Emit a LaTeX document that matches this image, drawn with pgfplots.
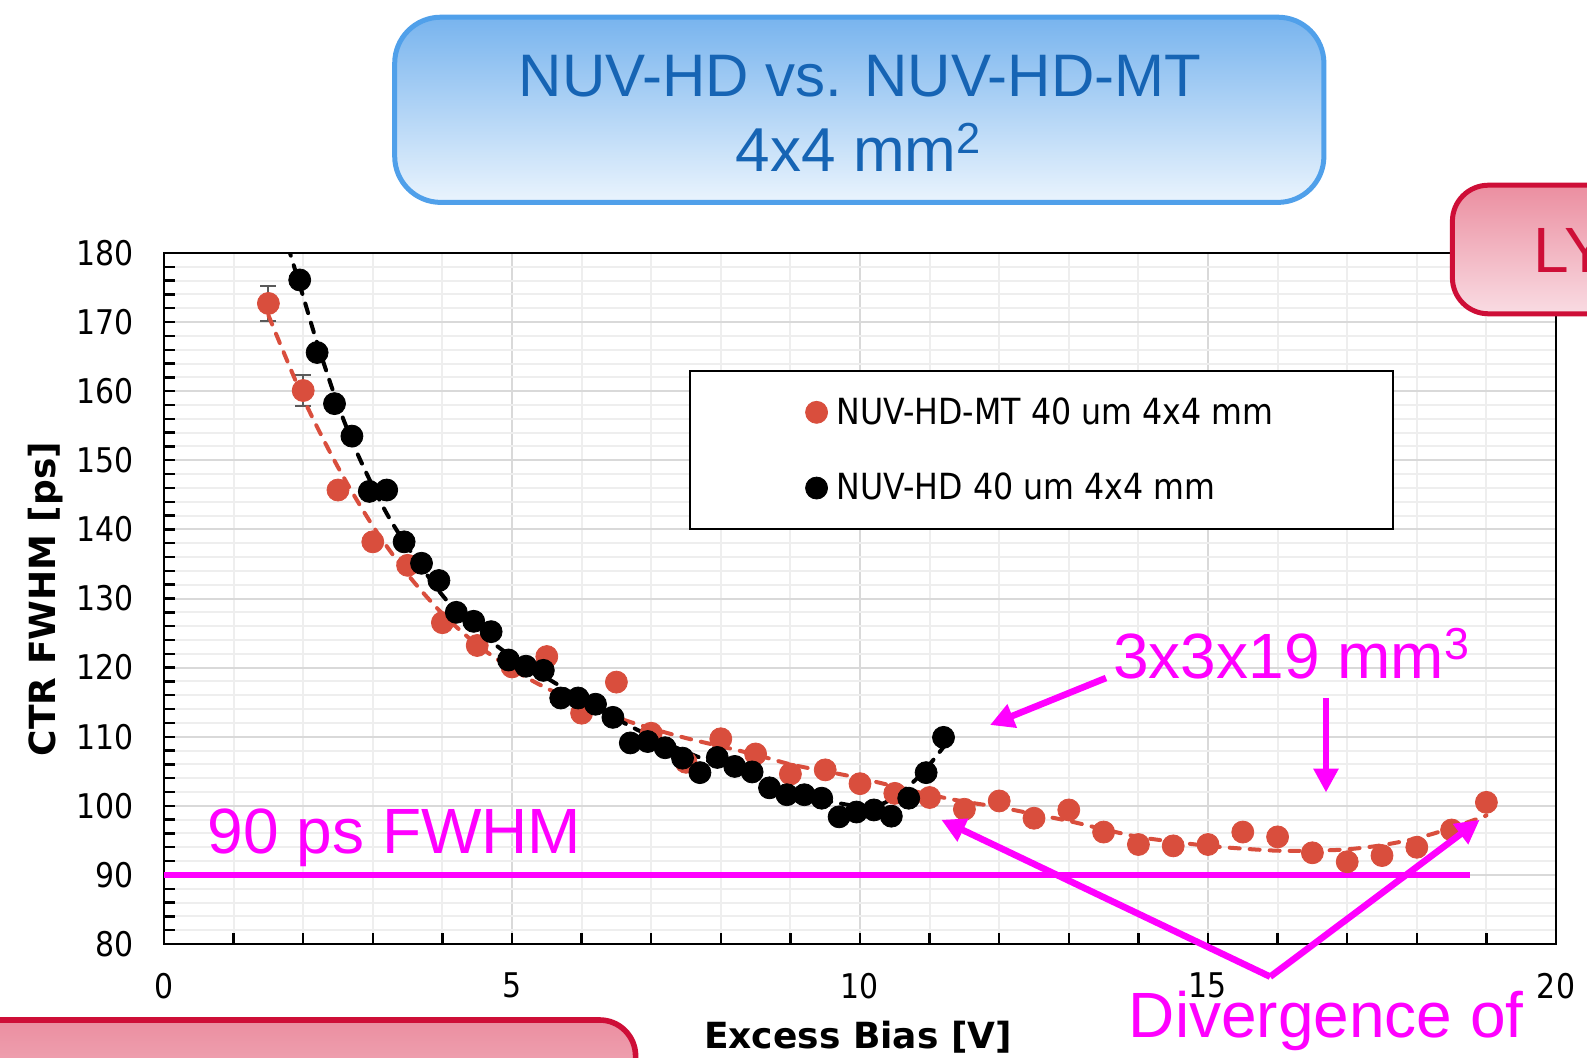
\documentclass[border=0pt]{standalone}
\usepackage{fontspec}
\setmainfont{Liberation Sans}
\newfontfamily\tickfont{DejaVu Sans}[FakeStretch=0.88]
\newfontfamily\labfont{DejaVu Sans}
\usepackage{pgfplots}
\usepackage{pgfplotstable}
\pgfplotsset{compat=1.18}
\usetikzlibrary{arrows.meta}

\definecolor{ptred}{RGB}{217,78,61}
\definecolor{mag}{RGB}{255,0,255}
\definecolor{titleblue}{RGB}{22,100,180}
\definecolor{boxborder}{RGB}{80,160,234}
\definecolor{boxtop}{RGB}{120,180,238}
\definecolor{boxbot}{RGB}{234,244,253}
\definecolor{crim}{RGB}{206,14,55}
\definecolor{pinktop}{RGB}{235,142,160}
\definecolor{pinkbot}{RGB}{249,220,227}
\definecolor{majgrid}{RGB}{217,217,217}
\definecolor{mingrid}{RGB}{238,238,238}
\definecolor{errgray}{RGB}{90,90,90}

\pgfplotstableread{
x y
1.5 172.7
2.0 160.1
2.5 145.7
3.0 138.2
3.5 134.8
4.0 126.5
4.5 123.2
5.0 120.1
5.5 121.6
6.0 113.4
6.5 117.9
7.0 110.5
7.5 106.3
8.0 109.7
8.5 107.5
9.0 104.6
9.5 105.2
10.0 103.2
10.5 101.8
11.0 101.2
11.5 99.5
12.0 100.7
12.5 98.2
13.0 99.4
13.5 96.2
14.0 94.4
14.5 94.2
15.0 94.4
15.5 96.2
16.0 95.5
16.5 93.2
17.0 91.9
17.5 92.8
18.0 94.0
18.5 96.5
19.0 100.5
}\redtab

\pgfplotstableread{
x y
1.95 176.1
2.20 165.6
2.45 158.2
2.70 153.5
2.95 145.5
3.20 145.7
3.45 138.2
3.70 135.1
3.95 132.6
4.20 128.0
4.45 126.7
4.70 125.2
4.95 121.1
5.20 120.2
5.45 119.6
5.70 115.6
5.95 115.6
6.20 114.7
6.45 112.8
6.70 109.1
6.95 109.3
7.20 108.4
7.45 106.9
7.70 104.8
7.95 107.0
8.20 105.7
8.45 104.9
8.70 102.6
8.95 101.6
9.20 101.6
9.45 101.1
9.70 98.4
9.95 99.1
10.20 99.4
10.45 98.5
10.70 101.1
10.95 104.8
11.20 109.9
}\blacktab

\begin{document}
\begin{tikzpicture}[x=0.5pt,y=0.5pt]
\useasboundingbox (0,0) rectangle (1587,1057);
\clip (0,0) rectangle (1587,1057);

\begin{axis}[
  at={(82pt,56.5pt)}, anchor=south west,
  width=696pt, height=345.5pt, scale only axis,
  xmin=0, xmax=20, ymin=80, ymax=180,
  xtick={0,5,10,15,20}, ytick={80,90,...,180},
  minor x tick num=4, minor y tick num=4,
  grid=both,
  major grid style={majgrid, line width=1pt},
  minor grid style={mingrid, line width=1pt},
  tick align=inside, xtick pos=bottom, ytick pos=left,
  major tick length=5.5pt, minor tick length=5.5pt,
  tick style={black, line width=1.2pt},
  axis line style={black, line width=1.4pt},
  tick label style={font=\tickfont\fontsize{17}{17}\selectfont},
  /pgf/number format/assume math mode=true,
  xticklabel style={yshift=-11pt},
  yticklabel style={xshift=-11.5pt},
  legend style={at={(0.377,0.830)}, anchor=north west, draw=black, line width=1pt,
    fill=white, inner xsep=57.9pt, inner ysep=11pt, row sep=19pt,
    font=\tickfont\fontsize{18}{20}\selectfont, nodes={inner sep=2pt}},
  legend cell align=left,
  legend image code/.code={\draw[#1] plot coordinates {(0pt,0pt)}; \path (7.5pt,0pt);},
]
% error bars of the first two red points
\addplot[forget plot, only marks, mark=none, color=errgray,
  error bars/.cd, y dir=both, y explicit,
  error bar style={line width=1pt, errgray},
  error mark options={rotate=90, mark size=4pt, line width=1pt, errgray}]
  coordinates {(1.5,172.7) +- (0,2.5) (2.0,160.1) +- (0,2.2)};

\addplot[only marks, mark=*, mark size=5.5pt, color=ptred, mark options={line width=0.4pt}]
  table[x=x,y=y]{\redtab};
\addlegendentry{NUV-HD-MT 40 um 4x4 mm}

\addplot[forget plot, ptred, line width=2pt, line cap=round, dash pattern=on 5pt off 5pt, smooth]
  coordinates {(1.5,171) (2,159) (2.5,149) (3,140.5) (3.5,133.5) (4,127.8) (4.5,123.3)
  (5,119.8) (5.5,117) (6,114.8) (6.5,112.8) (7,111.2) (7.5,109.8) (8,108.6) (8.5,107.4)
  (9,106) (9.5,105) (10,104) (10.5,102.8) (11,101.6) (11.5,100.6) (12,99.8) (12.5,98.8)
  (13,97.8) (13.5,96.6) (14,95.5) (14.5,94.8) (15,94.2) (15.5,93.8) (16,93.5) (16.5,93.5)
  (17,93.7) (17.5,94.3) (18,95.3) (18.5,96.8) (19,98.6)};

\addplot[only marks, mark=*, mark size=5.5pt, color=black, mark options={line width=0.4pt}]
  table[x=x,y=y]{\blacktab};
\addlegendentry{NUV-HD 40 um 4x4 mm}

\addplot[forget plot, black, line width=2pt, line cap=round, dash pattern=on 5pt off 5pt, smooth]
  coordinates {(1.78,181) (2,173.7) (2.2,167) (2.5,158) (2.8,150.5) (3.2,142.3) (3.6,136)
  (4.1,129.3) (4.8,123) (5.5,118.5) (6.2,114.3) (6.8,111) (7.5,107.8) (8,105.8) (8.5,104)
  (9,102.3) (9.5,100.8) (10,99.9) (10.3,100.2) (10.6,102) (10.9,104.8) (11.2,108.5)};

\draw[mag, line width=3.3pt] (axis cs:0,90) -- (axis cs:18.76,90);
\end{axis}

% axis titles
\node[anchor=base, inner sep=0pt, font=\labfont\bfseries\fontsize{18}{18}\selectfont] at (858,8.5) {Excess Bias [V]};
\node[anchor=base, inner sep=0pt, rotate=90, font=\labfont\bfseries\fontsize{18}{18}\selectfont] at (55.7,458) {CTR FWHM [ps]};

% title box
\draw[boxborder, line width=2.5pt, rounded corners=23pt, top color=boxtop, bottom color=boxbot]
  (394.7,854.6) rectangle (1323.9,1039.8);
\node[anchor=base, inner sep=0pt, text=titleblue, font=\fontsize{30}{36}\selectfont] at (860,960.8) {NUV-HD vs. NUV-HD-MT};
\node[anchor=base, inner sep=0pt, text=titleblue, font=\fontsize{31}{36}\selectfont] at (858.8,885) {4x4 mm\textsuperscript{2}};

% right box
\draw[crim, line width=2.5pt, rounded corners=18pt, top color=pinktop, bottom color=pinkbot]
  (1452.4,743.2) rectangle (1720,871.8);
\node[anchor=base west, inner sep=0pt, text=crim, font=\fontsize{32}{38}\selectfont] at (1533,784) {LY};

% bottom-left box
\draw[crim, line width=2.8pt, rounded corners=18pt, top color=pinktop, bottom color=pinkbot]
  (-100,-150) rectangle (635.6,37);

% annotations
\node[anchor=base west, inner sep=0pt, text=mag, font=\fontsize{32}{38}\selectfont] at (207.5,203.8) {90 ps FWHM};
\node[anchor=base west, inner sep=0pt, text=mag, font=\fontsize{32}{38}\selectfont] at (1113,379) {3x3x19 mm\textsuperscript{3}};
\node[anchor=base west, inner sep=0pt, text=mag, font=\fontsize{32}{38}\selectfont] at (1128.5,19.6) {Divergence of};

\draw[mag, line width=3.3pt, -{Triangle[length=12pt,width=12pt]}] (1106,379) -- (990,332);
\draw[mag, line width=3.3pt, -{Triangle[length=12pt,width=12pt]}] (1326,358.6) -- (1326,264.5);
\draw[mag, line width=3.3pt, -{Triangle[length=12pt,width=12pt]}] (1270.2,80.3) -- (941.3,237.2);
\draw[mag, line width=3.3pt, -{Triangle[length=12pt,width=12pt]}] (1270.2,80.3) -- (1479.7,237.2);
\end{tikzpicture}
\end{document}
